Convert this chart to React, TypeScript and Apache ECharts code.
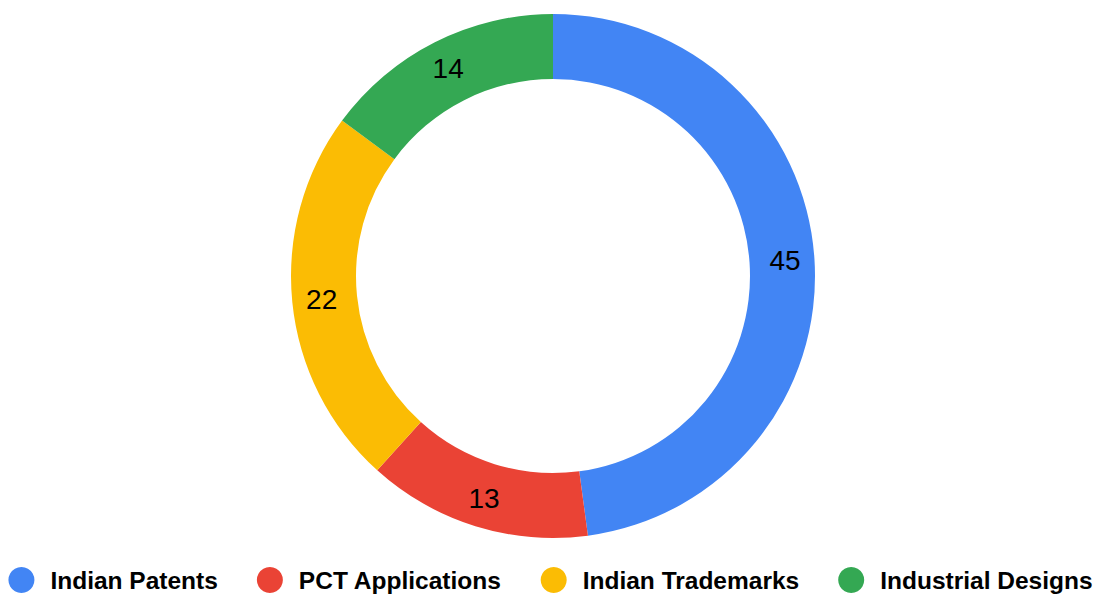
import React, { useEffect, useRef } from "react";
import * as echarts from "echarts";

const categories = ["Indian Patents", "PCT Applications", "Indian Trademarks", "Industrial Designs"];
const values = [45, 13, 22, 14];
const colors = ["#4285F4", "#EA4335", "#FBBC04", "#34A853"];

export default function App() {
  const ref = useRef<HTMLDivElement>(null);
  useEffect(() => {
    if (!ref.current) return;
    const chart = echarts.init(ref.current, null, { renderer: "svg" });
    chart.setOption({
      animation: false,
      color: colors,
      legend: {
        data: categories,
        top: 562,
        left: "center",
        icon: "circle",
        itemWidth: 26,
        itemHeight: 26,
        itemGap: 39,
        textStyle: {
          fontFamily: "'Liberation Sans', Arial, sans-serif",
          fontWeight: "bold",
          fontSize: 24.5,
          color: "#000",
          padding: [0, 0, 0, 11],
        },
      },
      series: [
        {
          type: "pie",
          center: [553, 276],
          radius: [197, 262],
          startAngle: 90,
          clockwise: true,
          avoidLabelOverlap: false,
          label: {
            show: true,
            position: "inside",
            formatter: "{c}",
            fontFamily: "'Liberation Sans', Arial, sans-serif",
            fontSize: 28,
            color: "#000",
          },
          labelLine: { show: false },
          itemStyle: { borderWidth: 0 },
          emphasis: { disabled: true },
          data: categories.map((name, i) => ({ name, value: values[i] })),
        },
      ],
    });
    return () => chart.dispose();
  }, []);
  return (
    <div
      ref={ref}
      style={{ position: "fixed", left: 0, top: 0, width: 1101, height: 595, background: "#fff" }}
    />
  );
}
